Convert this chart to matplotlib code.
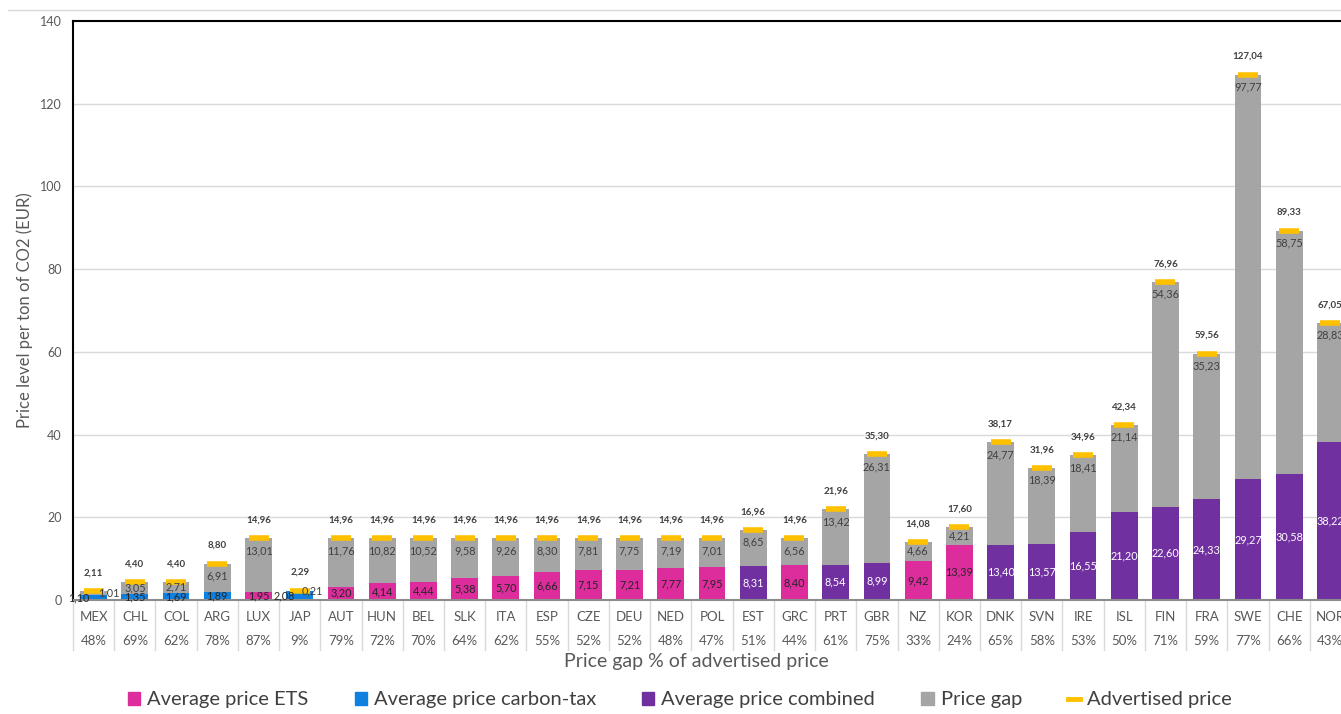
import matplotlib

matplotlib.use("Agg")
import matplotlib.pyplot as plt
import numpy as np
from matplotlib.lines import Line2D
from matplotlib.patches import Patch

plt.rcParams["font.family"] = ["Lato", "DejaVu Sans"]

countries = ["MEX", "CHL", "COL", "ARG", "LUX", "JAP", "AUT", "HUN", "BEL", "SLK",
             "ITA", "ESP", "CZE", "DEU", "NED", "POL", "EST", "GRC", "PRT", "GBR",
             "NZ", "KOR", "DNK", "SVN", "IRE", "ISL", "FIN", "FRA", "SWE", "CHE", "NOR"]
ets = [0, 0, 0, 0, 1.95, 0, 3.20, 4.14, 4.44, 5.38,
       5.70, 6.66, 7.15, 7.21, 7.77, 7.95, 0, 8.40, 0, 0,
       9.42, 13.39, 0, 0, 0, 0, 0, 0, 0, 0, 0]
carbon_tax = [1.10, 1.35, 1.69, 1.89, 0, 2.08, 0, 0, 0, 0,
              0, 0, 0, 0, 0, 0, 0, 0, 0, 0,
              0, 0, 0, 0, 0, 0, 0, 0, 0, 0, 0]
combined = [0, 0, 0, 0, 0, 0, 0, 0, 0, 0,
            0, 0, 0, 0, 0, 0, 8.31, 0, 8.54, 8.99,
            0, 0, 13.40, 13.57, 16.55, 21.20, 22.60, 24.33, 29.27, 30.58, 38.22]
price_gap = [1.01, 3.05, 2.71, 6.91, 13.01, 0.21, 11.76, 10.82, 10.52, 9.58,
             9.26, 8.30, 7.81, 7.75, 7.19, 7.01, 8.65, 6.56, 13.42, 26.31,
             4.66, 4.21, 24.77, 18.39, 18.41, 21.14, 54.36, 35.23, 97.77, 58.75, 28.83]
advertised = [2.11, 4.40, 4.40, 8.80, 14.96, 2.29, 14.96, 14.96, 14.96, 14.96,
              14.96, 14.96, 14.96, 14.96, 14.96, 14.96, 16.96, 14.96, 21.96, 35.30,
              14.08, 17.60, 38.17, 31.96, 34.96, 42.34, 76.96, 59.56, 127.04, 89.33, 67.05]
gap_pct = [48, 69, 62, 78, 87, 9, 79, 72, 70, 64,
           62, 55, 52, 52, 48, 47, 51, 44, 61, 75,
           33, 24, 65, 58, 53, 50, 71, 59, 77, 66, 43]
legend_labels = ["Average price ETS", "Average price carbon-tax",
                 "Average price combined", "Price gap", "Advertised price"]

PINK = "#DD2C9B"
BLUE = "#0E80E0"
PURPLE = "#7030A0"
GRAY = "#A5A5A5"
ORANGE = "#FFC000"
TEXT = "#595959"

# small bars where the two labels would overlap get pushed sideways (points)
label_shift = {"MEX": (-11, 11), "JAP": (-11, 9)}


def fmt(v):
    return f"{v:.2f}".replace(".", ",")


fig = plt.figure(figsize=(13.41, 7.14), dpi=100)
W, H = 1341, 714
ax = fig.add_axes([73 / W, (H - 600) / H, 1278 / W, 579 / H])

x = np.arange(len(countries))
ets_a = np.array(ets)
tax_a = np.array(carbon_tax)
comb_a = np.array(combined)
base = ets_a + tax_a + comb_a
bw = 0.65

ax.bar(x, ets_a, bw, color=PINK, zorder=2)
ax.bar(x, tax_a, bw, bottom=ets_a, color=BLUE, zorder=2)
ax.bar(x, comb_a, bw, bottom=ets_a + tax_a, color=PURPLE, zorder=2)
ax.bar(x, price_gap, bw, bottom=base, color=GRAY, zorder=2)
ax.plot(x, advertised, ls="none", marker="_", ms=14, mew=4, color=ORANGE, zorder=3)

for i, c in enumerate(countries):
    dx_base, dx_gap = label_shift.get(c, (0, 0))
    for vals, col in ((ets, "#262626"), (carbon_tax, "#262626"), (combined, "white")):
        v = vals[i]
        if v > 0:
            ax.annotate(fmt(v), (i, v / 2), xytext=(dx_base, 0), textcoords="offset points",
                        ha="center", va="center", fontsize=7.8, color=col, zorder=4)
    top = base[i] + price_gap[i]
    if price_gap[i] > 5.5:
        ax.annotate(fmt(price_gap[i]), (i, top), xytext=(dx_gap, -9), textcoords="offset points",
                    ha="center", va="center", fontsize=7.8, color="#404040", zorder=4)
    else:
        ax.annotate(fmt(price_gap[i]), (i, base[i] + price_gap[i] / 2), xytext=(dx_gap, 0),
                    textcoords="offset points", ha="center", va="center",
                    fontsize=7.8, color="#404040", zorder=4)
    ax.annotate(fmt(advertised[i]), (i, advertised[i]), xytext=(0, 13), textcoords="offset points",
                ha="center", va="center", fontsize=7, fontweight="bold", color="#404040")

ax.set_xlim(-0.5, len(countries) - 0.5)
ax.set_ylim(0, 140)
ax.set_yticks(np.arange(0, 141, 20))
ax.yaxis.grid(True, color="#d9d9d9", lw=1)
ax.set_axisbelow(True)
ax.tick_params(axis="y", length=0, pad=8, labelsize=9, labelcolor=TEXT)
ax.tick_params(axis="x", length=0, labelbottom=False)
ax.set_xticks([])

for s in ("top", "left"):
    ax.spines[s].set_color("black")
    ax.spines[s].set_linewidth(1.5)
ax.spines["right"].set_visible(False)
ax.spines["bottom"].set_color("#8c8c8c")
ax.spines["bottom"].set_linewidth(1.5)

# two-level category axis: country code, then price gap share
xt = ax.get_xaxis_transform()
for i, c in enumerate(countries):
    ax.text(i, -0.030, c, transform=xt, ha="center", va="center", fontsize=9.5, color=TEXT)
    ax.text(i, -0.071, f"{gap_pct[i]}%", transform=xt, ha="center", va="center",
            fontsize=9.5, color=TEXT)
for b in np.arange(len(countries) + 1) - 0.5:
    ax.plot([b, b], [0, -0.086], transform=xt, color="#d9d9d9", lw=1, clip_on=False)

ax.set_ylabel("Price level per ton of CO2 (EUR)", fontsize=12, color=TEXT, labelpad=5)
fig.text(696 / W, 1 - 662 / H, "Price gap % of advertised price", ha="center", va="center",
         fontsize=14, color=TEXT)

fig.add_artist(Line2D([8 / W, 1], [1 - 10 / H, 1 - 10 / H], color="#d9d9d9", lw=1))

handles = [Patch(color=PINK), Patch(color=BLUE), Patch(color=PURPLE), Patch(color=GRAY),
           Line2D([], [], color=ORANGE, lw=3.5)]
fig.legend(handles, legend_labels, loc="center", bbox_to_anchor=(680 / W, 1 - 700 / H),
           ncol=5, frameon=False, fontsize=14.5, handlelength=0.6, handleheight=0.6,
           handletextpad=0.35, columnspacing=2.3, labelcolor="#404040")

fig.savefig("out.png", dpi=100)
